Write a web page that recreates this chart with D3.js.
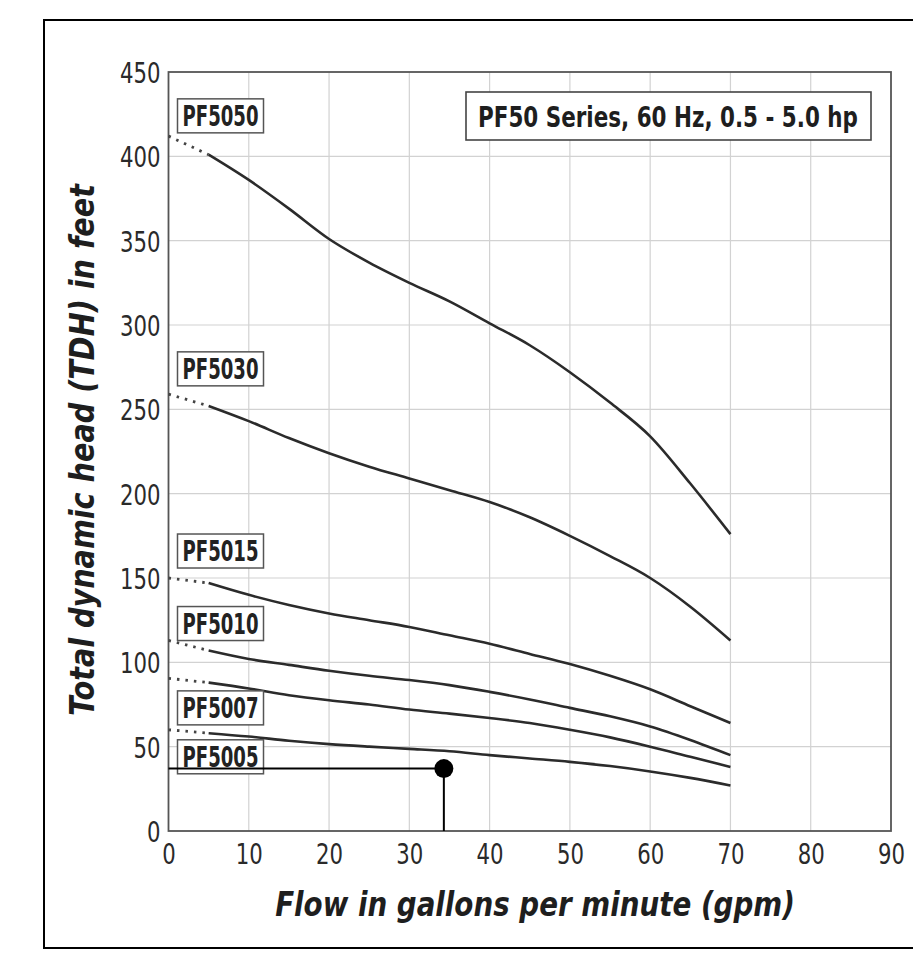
<!DOCTYPE html>
<html>
<head>
<meta charset="utf-8">
<script src="https://cdn.jsdelivr.net/npm/d3@7"></script>
<style>
  html, body { margin: 0; padding: 0; background: #fff; }
  svg { display: block; }
</style>
</head>
<body>
<svg id="chart" width="913" height="955"></svg>
<script>
// ---- data ----
const flow = [0, 5, 10, 15, 20, 25, 30, 35, 40, 45, 50, 55, 60, 65, 70];
const pf5050 = [412, 401, 386, 369, 351, 337, 325, 314, 301, 288, 272, 254, 234, 206, 176];
const pf5030 = [259, 252, 243, 233, 224, 216, 209, 202, 195, 186, 175, 163, 150, 133, 113];
const pf5015 = [150, 147, 140, 134, 129, 125, 121, 116, 111, 105, 99, 92, 84, 74, 64];
const pf5010 = [113, 107, 102, 98.5, 95, 92, 89.5, 86.5, 82.5, 78, 73, 68, 62, 54, 45];
const pf5007 = [90.5, 88, 84.5, 80.5, 77.5, 75, 72, 69.6, 67, 64, 60, 55.5, 50, 44, 38];
const pf5005 = [60, 58, 56, 53.5, 51.5, 50, 48.7, 47.3, 45, 43, 41, 38.5, 35.3, 31.5, 27];
const seriesNames = ["PF5050", "PF5030", "PF5015", "PF5010", "PF5007", "PF5005"];
const labelHead = [424, 274, 166, 123, 73, 44];   // head value at which each label box is centred
const xTicks = [0, 10, 20, 30, 40, 50, 60, 70, 80, 90];
const yTicks = [0, 50, 100, 150, 200, 250, 300, 350, 400, 450];
const examplePoint = { flow: 34.3, head: 37 };
const titleText = "PF50 Series, 60 Hz, 0.5 - 5.0 hp";
const xTitle = "Flow in gallons per minute (gpm)";
const yTitle = "Total dynamic head (TDH) in feet";

const allSeries = [pf5050, pf5030, pf5015, pf5010, pf5007, pf5005];

// ---- layout ----
const svg = d3.select("#chart");
const condensed = "'Liberation Sans Narrow', 'DejaVu Sans Condensed', 'DejaVu Sans', sans-serif";
const x = d3.scaleLinear().domain([0, 90]).range([168.5, 891]);
const y = d3.scaleLinear().domain([0, 450]).range([831, 72]);

// helper: draw text squeezed horizontally to a given width
function squeezed(parent, str, cx, cy, width, attrs, rotate) {
  const g = parent.append("g");
  const t = g.append("text").attr("x", 0).attr("y", 0).attr("text-anchor", "middle").text(str);
  Object.entries(attrs).forEach(([k, v]) => t.attr(k, v));
  const w = t.node().getComputedTextLength();
  const s = width / w;
  g.attr("transform", `translate(${cx},${cy})` + (rotate ? ` rotate(${rotate})` : "") + ` scale(${s},1)`);
  return g;
}

// outer frame
svg.append("rect").attr("x", 44).attr("y", 20).attr("width", 900).attr("height", 928)
  .attr("fill", "none").attr("stroke", "#000").attr("stroke-width", 2);

// grid
const grid = svg.append("g");
grid.selectAll("line.vx").data(xTicks.slice(1, -1)).join("line")
  .attr("x1", d => x(d)).attr("x2", d => x(d)).attr("y1", y(450)).attr("y2", y(0))
  .attr("stroke", "#d2d2d2").attr("stroke-width", 1.2);
grid.selectAll("line.hy").data(yTicks.slice(1, -1)).join("line")
  .attr("x1", x(0)).attr("x2", x(90)).attr("y1", d => y(d)).attr("y2", d => y(d))
  .attr("stroke", "#d2d2d2").attr("stroke-width", 1.2);

// plot border
svg.append("rect").attr("x", x(0)).attr("y", y(450)).attr("width", x(90) - x(0)).attr("height", y(0) - y(450))
  .attr("fill", "none").attr("stroke", "#555").attr("stroke-width", 1.8);

// axes (labels only)
const xAxis = d3.axisBottom(x).tickValues(xTicks).tickSize(0).tickPadding(11);
const gx = svg.append("g").attr("transform", `translate(0,${y(0)})`).call(xAxis);
gx.select(".domain").remove();
gx.selectAll("text").attr("font-family", condensed).attr("font-size", 29).attr("fill", "#2a2a2a")
  .attr("dy", "0.75em")
  .attr("textLength", d => String(d).length * 13.5).attr("lengthAdjust", "spacingAndGlyphs");

const yAxis = d3.axisLeft(y).tickValues(yTicks).tickSize(0).tickPadding(8);
const gy = svg.append("g").attr("transform", `translate(${x(0)},0)`).call(yAxis);
gy.select(".domain").remove();
gy.selectAll("text").attr("font-family", condensed).attr("font-size", 29).attr("fill", "#2a2a2a")
  .attr("dy", "0.36em")
  .attr("textLength", d => String(d).length * 13.5).attr("lengthAdjust", "spacingAndGlyphs");

// curves
const pts = s => flow.map((f, i) => [f, s[i]]);
const line = d3.line().x(d => x(d[0])).y(d => y(d[1])).curve(d3.curveMonotoneX);
const curves = svg.append("g");
allSeries.forEach(s => {
  const p = pts(s);
  curves.append("path").attr("d", line(p.slice(1))).attr("fill", "none")
    .attr("stroke", "#2b2b2b").attr("stroke-width", 2.6).attr("stroke-linejoin", "round");
  curves.append("path").attr("d", d3.line().x(d => x(d[0])).y(d => y(d[1]))(p.slice(0, 2)))
    .attr("fill", "none").attr("stroke", "#444").attr("stroke-width", 2.8)
    .attr("stroke-dasharray", "2.5,6");
});

// series labels
const labels = svg.append("g");
seriesNames.forEach((name, i) => {
  const cy = y(labelHead[i]);
  labels.append("rect").attr("x", x(0) + 9).attr("y", cy - 17).attr("width", 86).attr("height", 34)
    .attr("fill", "#fff").attr("stroke", "#555").attr("stroke-width", 1.5);
  squeezed(labels, name, x(0) + 52, cy + 10, 76,
    { "font-family": condensed, "font-weight": "bold", "font-size": 28, "fill": "#222" });
});

// title box
svg.append("rect").attr("x", 466).attr("y", 92).attr("width", 405).attr("height", 48)
  .attr("fill", "#fff").attr("stroke", "#444").attr("stroke-width", 1.6);
squeezed(svg, titleText, 668, 126.5, 380,
  { "font-family": condensed, "font-weight": "bold", "font-size": 29, "fill": "#1e1e1e" });

// example operating point
const ex = svg.append("g");
ex.append("line").attr("x1", x(0)).attr("x2", x(examplePoint.flow))
  .attr("y1", y(examplePoint.head)).attr("y2", y(examplePoint.head))
  .attr("stroke", "#000").attr("stroke-width", 2);
ex.append("line").attr("x1", x(examplePoint.flow)).attr("x2", x(examplePoint.flow))
  .attr("y1", y(examplePoint.head)).attr("y2", y(0))
  .attr("stroke", "#000").attr("stroke-width", 2);
ex.append("circle").attr("cx", x(examplePoint.flow)).attr("cy", y(examplePoint.head)).attr("r", 9.5)
  .attr("fill", "#000");

// axis titles
squeezed(svg, xTitle, 535, 916, 520,
  { "font-family": condensed, "font-weight": "bold", "font-style": "italic", "font-size": 34, "fill": "#1e1e1e" });
const yt = svg.append("g").attr("transform", "translate(94,450) rotate(-90)");
squeezed(yt, yTitle, 0, 0, 532,
  { "font-family": condensed, "font-weight": "bold", "font-style": "italic", "font-size": 34, "fill": "#1e1e1e" });
</script>
</body>
</html>
